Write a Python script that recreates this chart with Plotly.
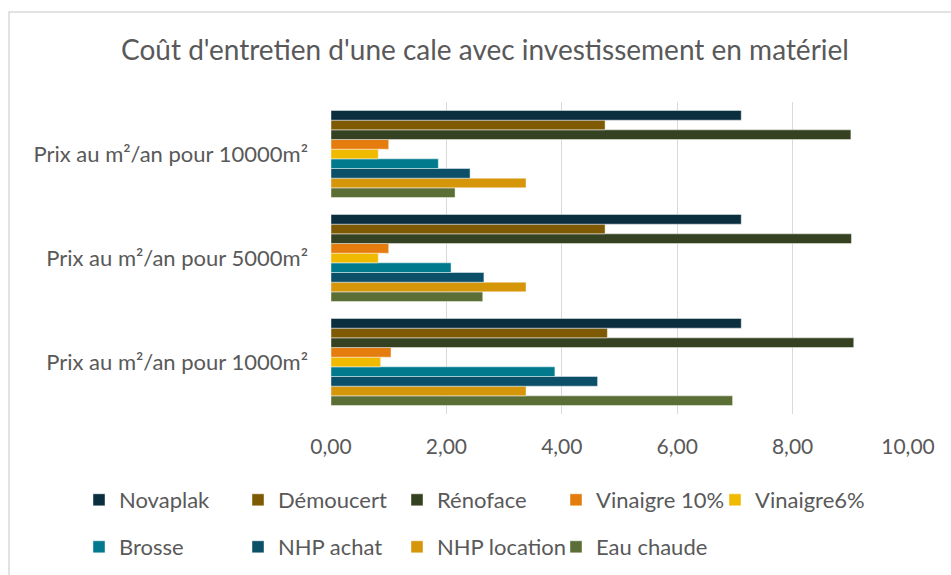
import plotly.graph_objects as go

categories = ["Prix au m²/an pour 1000m²", "Prix au m²/an pour 5000m²", "Prix au m²/an pour 10000m²"]
series_names = ["Novaplak", "Démoucert", "Rénoface", "Vinaigre 10%", "Vinaigre6%",
                "Brosse", "NHP achat", "NHP location", "Eau chaude"]
novaplak = [7.11, 7.11, 7.11]
demoucert = [4.79, 4.75, 4.75]
renoface = [9.06, 9.02, 9.01]
vinaigre10 = [1.04, 1.00, 1.00]
vinaigre6 = [0.86, 0.82, 0.82]
brosse = [3.88, 2.08, 1.86]
nhp_achat = [4.62, 2.65, 2.41]
nhp_location = [3.38, 3.38, 3.38]
eau_chaude = [6.96, 2.63, 2.15]
colors = ["#0B2F3E", "#7F5A05", "#354222", "#E47C0E", "#F0BA00",
          "#007A8C", "#0C4F69", "#D6960A", "#5A6E35"]
x_tickvals = [0, 2, 4, 6, 8, 10]

values = [novaplak, demoucert, renoface, vinaigre10, vinaigre6,
          brosse, nhp_achat, nhp_location, eau_chaude]

W, H = 951, 575
L, R, T, B = 331, 43, 102, 161
pw, ph = W - L - R, H - T - B

def px_x(p):
    return (p - L) / pw

def px_y(p):
    return (H - B - p) / ph

fig = go.Figure()
for i in reversed(range(len(series_names))):
    fig.add_trace(go.Bar(
        y=categories, x=values[i], name=series_names[i], orientation="h",
        marker=dict(color=colors[i], line=dict(color="rgba(255,255,255,0.55)", width=0.8)),
        legend="legend" if i < 5 else "legend2",
    ))

font_family = "Source Sans Pro, Lato, sans-serif"
gray = "#595959"
legend_common = dict(orientation="h", xanchor="left", yanchor="middle",
                     font=dict(family=font_family, size=22, color=gray),
                     entrywidth=114, traceorder="reversed", bgcolor="rgba(0,0,0,0)")

fig.update_layout(
    width=W, height=H,
    margin=dict(l=L, r=R, t=T, b=B, autoexpand=False),
    paper_bgcolor="white", plot_bgcolor="white",
    separators=", ",
    barmode="group", bargap=0.163, bargroupgap=0,
    title=dict(text="Coût d'entretien d'une cale avec investissement en matériel",
               x=485 / W, xanchor="center", xref="container", y=1 - 50 / H, yanchor="middle",
               font=dict(family=font_family, size=28, color=gray)),
    xaxis=dict(range=[0, 10], tickvals=x_tickvals, tickformat=".2f",
               showgrid=True, gridcolor="#D9D9D9", gridwidth=1.3,
               zeroline=False, showline=False, ticks="", ticklabelstandoff=18,
               tickfont=dict(family=font_family, size=21, color=gray), fixedrange=True),
    yaxis=dict(showgrid=False, zeroline=False, showline=False, ticks="",
               ticklabelstandoff=22, fixedrange=True,
               tickfont=dict(family=font_family, size=22, color=gray)),
    legend=dict(x=px_x(79), y=px_y(500), **legend_common),
    legend2=dict(x=px_x(79), y=px_y(547), **legend_common),
    showlegend=True,
    shapes=[dict(type="rect", xref="paper", yref="paper",
                 x0=px_x(9), x1=px_x(965), y0=px_y(595), y1=px_y(12),
                 line=dict(color="#D9D9D9", width=1.5), fillcolor="rgba(0,0,0,0)", layer="below")],
)

fig.write_html("out.html", config={"displayModeBar": False},
               post_script="document.body.style.margin='0';document.body.style.padding='0';")
